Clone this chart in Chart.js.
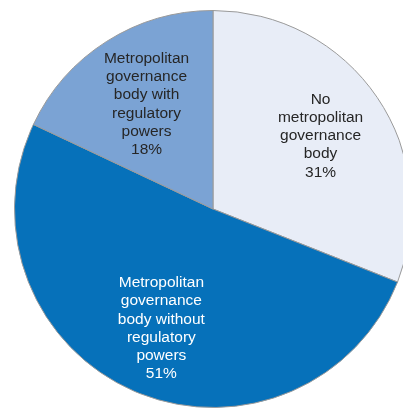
<!DOCTYPE html>
<html>
<head>
<meta charset="utf-8">
<script src="https://cdn.jsdelivr.net/npm/chart.js@4"></script>
<style>
  html, body { margin: 0; padding: 0; background: #fff; overflow: hidden; }
  #wrap { position: absolute; left: 0; top: 0; width: 426px; height: 418px; }
</style>
</head>
<body>
<div id="wrap"><canvas id="pieChart"></canvas></div>
<script>
// Share of metropolitan areas by governance type
const labels = [
  ["No", "metropolitan", "governance", "body"],
  ["Metropolitan", "governance", "body without", "regulatory", "powers"],
  ["Metropolitan", "governance", "body with", "regulatory", "powers"],
];
const shares = [31, 51, 18];
const sliceColors = ["#E8EDF7", "#0671BA", "#7BA3D4"];
const textColors = ["#262626", "#ffffff", "#262626"];

/** Draw the labels inside each slice */
const sliceLabels = {
  id: "sliceLabels",
  afterDatasetsDraw(chart) {
    const { ctx } = chart;
    const meta = chart.getDatasetMeta(0);
    const radiusFrac = [0.655, 0.655, 0.625];
    ctx.save();
    ctx.font = "15.5px 'Liberation Sans', Arial, sans-serif";
    ctx.textAlign = "center";
    ctx.textBaseline = "middle";
    meta.data.forEach((arc, i) => {
      const { x, y, startAngle, endAngle, outerRadius } = arc.getProps(
        ["x", "y", "startAngle", "endAngle", "outerRadius"],
        true
      );
      const mid = (startAngle + endAngle) / 2;
      const r = outerRadius * radiusFrac[i];
      const cx = x + Math.cos(mid) * r;
      const cy = y + Math.sin(mid) * r;
      const lines = [...labels[i], shares[i] + "%"];
      const lineH = 18.2;
      const top = cy - ((lines.length - 1) * lineH) / 2;
      ctx.fillStyle = textColors[i];
      lines.forEach((line, k) => ctx.fillText(line, cx, top + k * lineH));
    });
    ctx.restore();
  },
};

new Chart(document.getElementById("pieChart"), {
  type: "pie",
  data: {
    labels: labels.map((l) => l.join(" ")),
    datasets: [
      {
        data: shares,
        backgroundColor: sliceColors,
        borderColor: "#9A9A9A",
        borderWidth: 1,
      },
    ],
  },
  options: {
    responsive: true,
    maintainAspectRatio: false,
    animation: false,
    layout: { padding: 10 },
    plugins: {
      legend: { display: false },
      tooltip: { enabled: false },
    },
  },
  plugins: [sliceLabels],
});
</script>
</body>
</html>
